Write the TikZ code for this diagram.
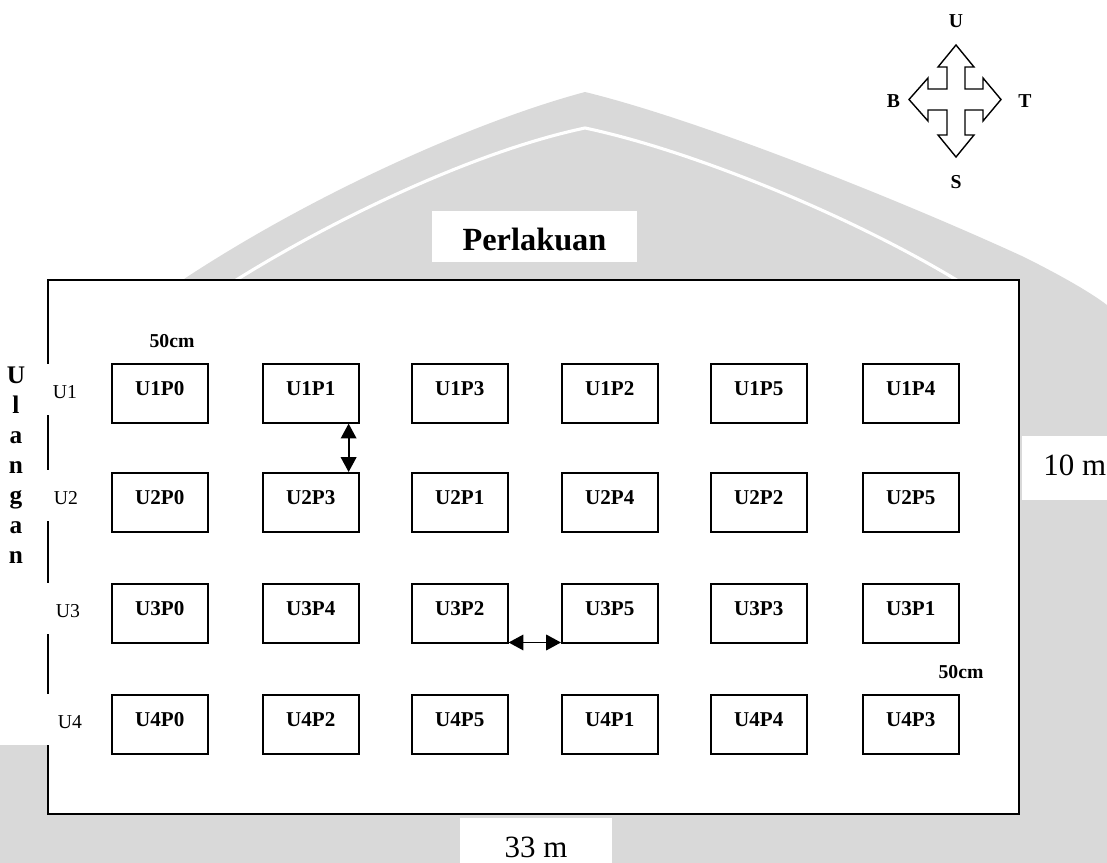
\documentclass[tikz,border=0pt]{standalone}
\usepackage{fontspec}
\setmainfont{Liberation Serif}
\usetikzlibrary{arrows.meta}
\definecolor{wm}{RGB}{217,217,217}
\begin{document}
\begin{tikzpicture}[x=0.025cm,y=-0.025cm,
  plot/.style={draw, line width=1.1pt, fill=white, minimum width=68.3pt,
    inner xsep=0pt, inner ysep=0pt, text height=22.8pt, text depth=19.2pt,
    font=\bfseries\fontsize{15}{17}\selectfont, anchor=north west},
  rowlab/.style={fill=white, inner sep=0pt, minimum width=45.5pt,
    text height=24.2pt, text depth=12.1pt, font=\fontsize{14}{16}\selectfont, anchor=base},
  dist/.style={font=\bfseries\fontsize{14}{16}\selectfont, inner sep=0pt, anchor=base},
  dir/.style={font=\bfseries\fontsize{14}{16}\selectfont, inner sep=0pt, anchor=base},
  dimarrow/.style={line width=1.3pt, {Triangle[length=10.5pt,width=11pt]}-{Triangle[length=10.5pt,width=11pt]}},
  bigtext/.style={fill=white, inner ysep=0pt, font=\fontsize{22}{24}\selectfont, anchor=base}
]
\useasboundingbox (0,0) rectangle (1107,863);
% watermark arch
\fill[wm] (0,863) -- (0,560) .. controls (60,420) and (110,330) .. (187,277)
  .. controls (320,190) and (480,120) .. (585,92)
  .. controls (700,120) and (900,200) .. (1024,257)
  .. controls (1060,275) and (1090,292) .. (1107,305) -- (1107,863) -- cycle;
\draw[white, line width=2.2pt] (233,282) .. controls (340,215) and (480,150) .. (585,128)
  .. controls (690,150) and (850,215) .. (960,282);
% Ulangan text box
\fill[white] (0,350) rectangle (48,745);
% field
\draw[fill=white, line width=1.4pt] (48,280) rectangle (1019,814);
\node[inner sep=0pt, anchor=north, align=center, font=\bfseries\fontsize{18}{21.3}\selectfont]
  (ulangan) at (16,367) {U\\l\\a\\n\\g\\a\\n};
% row labels
\node[rowlab] (r1) at (65,398) {U1};
\node[rowlab] (r2) at (66,504) {U2};
\node[rowlab] (r3) at (68,617) {U3};
\node[rowlab] (r4) at (70,728) {U4};
% title
\node[fill=white, inner ysep=0pt, minimum width=145.8pt, text height=27.7pt, text depth=8.5pt,
  font=\bfseries\fontsize{23}{25}\selectfont, anchor=base] (perlakuan) at (534.5,250) {Perlakuan};
% dimensions
\node[bigtext, inner xsep=15pt, text height=27.7pt, text depth=17.8pt, anchor=base west] (ten) at (1022,475) {10 m};
\node[bigtext, minimum width=108pt, text height=28pt, text depth=4.5pt] (thirtythree) at (536,857) {33 m};
\node[dist] (d1) at (172,347.5) {50cm};
\node[dist] (d2) at (961,678) {50cm};
% plots row 1
\node[plot] (U1P0) at (111,363) {U1P0};
\node[plot] (U1P1) at (262,363) {U1P1};
\node[plot] (U1P3) at (411,363) {U1P3};
\node[plot] (U1P2) at (561,363) {U1P2};
\node[plot] (U1P5) at (710,363) {U1P5};
\node[plot] (U1P4) at (862,363) {U1P4};
% row 2
\node[plot] (U2P0) at (111,472) {U2P0};
\node[plot] (U2P3) at (262,472) {U2P3};
\node[plot] (U2P1) at (411,472) {U2P1};
\node[plot] (U2P4) at (561,472) {U2P4};
\node[plot] (U2P2) at (710,472) {U2P2};
\node[plot] (U2P5) at (862,472) {U2P5};
% row 3
\node[plot] (U3P0) at (111,583) {U3P0};
\node[plot] (U3P4) at (262,583) {U3P4};
\node[plot] (U3P2) at (411,583) {U3P2};
\node[plot] (U3P5) at (561,583) {U3P5};
\node[plot] (U3P3) at (710,583) {U3P3};
\node[plot] (U3P1) at (862,583) {U3P1};
% row 4
\node[plot] (U4P0) at (111,694) {U4P0};
\node[plot] (U4P2) at (262,694) {U4P2};
\node[plot] (U4P5) at (411,694) {U4P5};
\node[plot] (U4P1) at (561,694) {U4P1};
\node[plot] (U4P4) at (710,694) {U4P4};
\node[plot] (U4P3) at (862,694) {U4P3};
% spacing arrows
\draw[dimarrow] ([xshift=-7.8pt]U1P1.south east) -- ([xshift=-7.8pt]U2P3.north east);
\draw[dimarrow] ([yshift=0.8pt]U3P2.south east) -- ([yshift=0.8pt]U3P5.south west);
% compass
\draw[fill=white, line width=1pt, line join=miter]
  (956,45) -- (974,67) -- (965,67) -- (965,89) -- (983,89) -- (983,78) -- (1001,99.5)
  -- (983,121) -- (983,110) -- (965,110) -- (965,135) -- (974,135) -- (956,157)
  -- (938,135) -- (947,135) -- (947,110) -- (928,110) -- (928,121) -- (909,99.5)
  -- (928,78) -- (928,89) -- (947,89) -- (947,67) -- (938,67) -- cycle;
\node[dir] (north) at (956,27) {U};
\node[dir] (west) at (893.5,107) {B};
\node[dir] (east) at (1025,107) {T};
\node[dir] (south) at (956,188) {S};
\end{tikzpicture}
\end{document}
